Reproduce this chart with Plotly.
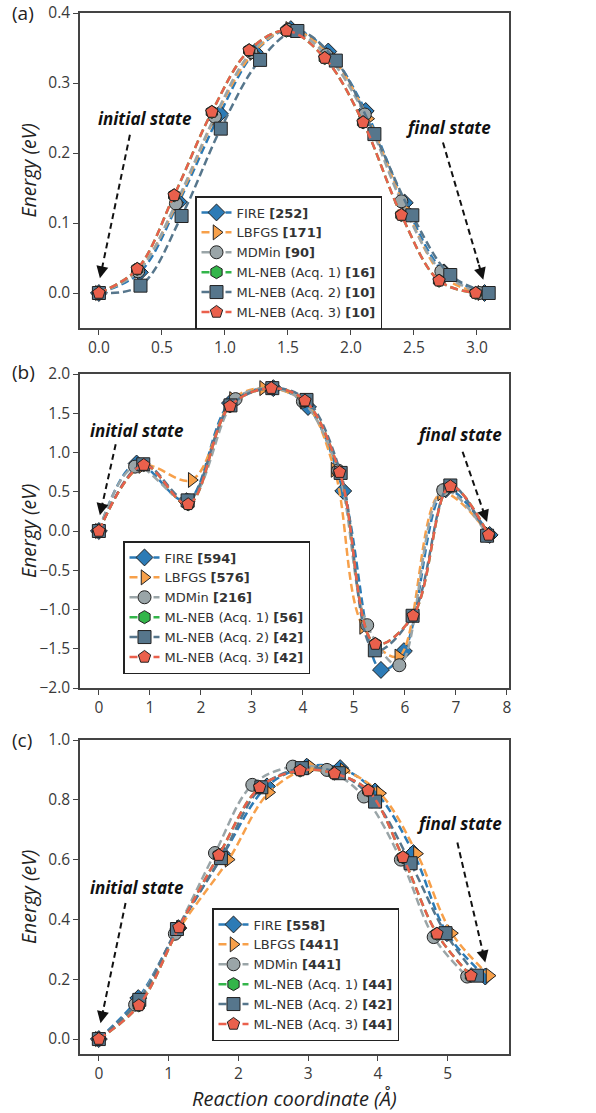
import plotly.graph_objects as go

# ---------------- data ----------------
methods = ["FIRE", "LBFGS", "MDMin", "ML-NEB (Acq. 1)", "ML-NEB (Acq. 2)", "ML-NEB (Acq. 3)"]
colors = ["#2c7bb6", "#f7a04a", "#9aa5a8", "#33b54a", "#56768c", "#ea604c"]
symbols = ["diamond", "triangle-right", "circle", "hexagon", "square", "pentagon"]

# Panel (a)
a_counts = [252, 171, 90, 16, 10, 10]
a_fire_x = [0, 0.325, 0.634, 0.96, 1.237, 1.523, 1.82, 2.117, 2.427, 2.739, 3.06]
a_fire_y = [0, 0.0295, 0.13, 0.256, 0.344, 0.377, 0.345, 0.26, 0.129, 0.0295, 0.0]
a_lbfgs_x = [0, 0.312, 0.621, 0.92, 1.224, 1.51, 1.83, 2.136, 2.44, 2.744, 3.035]
a_lbfgs_y = [0, 0.032, 0.129, 0.25, 0.343, 0.377, 0.34, 0.249, 0.118, 0.022, 0.0]
a_mdmin_x = [0, 0.312, 0.611, 0.92, 1.21, 1.50, 1.805, 2.11, 2.40, 2.717, 3.02]
a_mdmin_y = [0, 0.031, 0.128, 0.252, 0.344, 0.376, 0.34, 0.255, 0.131, 0.031, 0.0]
a_acq1_x = [0, 0.304, 0.597, 0.896, 1.192, 1.488, 1.792, 2.096, 2.40, 2.699, 2.99]
a_acq1_y = [0, 0.0343, 0.1395, 0.2586, 0.3467, 0.3748, 0.3357, 0.2438, 0.1114, 0.0176, 0.0]
a_acq2_x = [0, 0.33, 0.656, 0.967, 1.279, 1.575, 1.88, 2.186, 2.487, 2.788, 3.093]
a_acq2_y = [0, 0.0105, 0.110, 0.2348, 0.333, 0.3743, 0.332, 0.227, 0.111, 0.0257, 0.0]
a_acq3_x = [0, 0.304, 0.597, 0.896, 1.192, 1.488, 1.792, 2.096, 2.40, 2.699, 2.99]
a_acq3_y = [0, 0.0343, 0.1395, 0.2586, 0.3467, 0.3748, 0.3357, 0.2438, 0.1114, 0.0176, 0.0]

# Panel (b)
b_counts = [594, 576, 216, 56, 42, 42]
b_fire_x = [0, 0.74, 1.72, 2.57, 3.42, 4.10, 4.79, 5.53, 5.98, 6.80, 7.66]
b_fire_y = [0, 0.86, 0.38, 1.63, 1.82, 1.58, 0.51, -1.77, -1.53, 0.53, -0.05]
b_lbfgs_x = [0, 0.85, 1.82, 2.63, 3.22, 4.02, 4.62, 5.18, 5.87, 6.71, 7.64]
b_lbfgs_y = [0, 0.83, 0.65, 1.68, 1.82, 1.65, 0.78, -1.22, -1.60, 0.48, -0.04]
b_mdmin_x = [0, 0.71, 1.75, 2.68, 3.38, 4.00, 4.69, 5.26, 5.89, 6.75, 7.63]
b_mdmin_y = [0, 0.82, 0.39, 1.68, 1.82, 1.65, 0.77, -1.20, -1.71, 0.52, -0.06]
b_acq1_x = [0, 0.88, 1.75, 2.57, 3.38, 4.04, 4.72, 5.42, 6.16, 6.89, 7.64]
b_acq1_y = [0, 0.84, 0.34, 1.59, 1.82, 1.66, 0.75, -1.44, -1.08, 0.57, -0.05]
b_acq2_x = [0, 0.87, 1.74, 2.58, 3.40, 4.07, 4.74, 5.41, 6.15, 6.89, 7.61]
b_acq2_y = [0, 0.85, 0.39, 1.60, 1.82, 1.67, 0.74, -1.52, -1.08, 0.58, -0.06]
b_acq3_x = [0, 0.88, 1.75, 2.57, 3.38, 4.04, 4.72, 5.42, 6.16, 6.89, 7.64]
b_acq3_y = [0, 0.84, 0.34, 1.59, 1.82, 1.66, 0.75, -1.44, -1.08, 0.57, -0.05]

# Panel (c)
c_counts = [558, 441, 441, 44, 42, 44]
c_fire_x = [0, 0.565, 1.14, 1.78, 2.41, 2.98, 3.46, 3.96, 4.51, 4.99, 5.54]
c_fire_y = [0, 0.137, 0.371, 0.616, 0.845, 0.911, 0.906, 0.828, 0.622, 0.354, 0.209]
c_lbfgs_x = [0, 0.58, 1.16, 1.86, 2.44, 3.05, 3.51, 4.03, 4.56, 5.06, 5.60]
c_lbfgs_y = [0, 0.126, 0.371, 0.60, 0.825, 0.909, 0.898, 0.822, 0.62, 0.354, 0.212]
c_mdmin_x = [0, 0.52, 1.09, 1.665, 2.20, 2.78, 3.27, 3.80, 4.33, 4.80, 5.28]
c_mdmin_y = [0, 0.115, 0.352, 0.622, 0.85, 0.911, 0.90, 0.811, 0.60, 0.341, 0.209]
c_acq1_x = [0, 0.574, 1.148, 1.72, 2.306, 2.885, 3.378, 3.861, 4.359, 4.847, 5.335]
c_acq1_y = [0, 0.1125, 0.373, 0.615, 0.842, 0.898, 0.888, 0.831, 0.608, 0.352, 0.2117]
c_acq2_x = [0, 0.58, 1.12, 1.75, 2.33, 2.91, 3.44, 3.96, 4.47, 4.97, 5.42]
c_acq2_y = [0, 0.131, 0.368, 0.605, 0.842, 0.906, 0.889, 0.794, 0.588, 0.354, 0.212]
c_acq3_x = [0, 0.574, 1.148, 1.72, 2.306, 2.885, 3.378, 3.861, 4.359, 4.847, 5.335]
c_acq3_y = [0, 0.1125, 0.373, 0.615, 0.842, 0.898, 0.888, 0.831, 0.608, 0.352, 0.2117]

panels = [
    dict(counts=a_counts,
         xs=[a_fire_x, a_lbfgs_x, a_mdmin_x, a_acq1_x, a_acq2_x, a_acq3_x],
         ys=[a_fire_y, a_lbfgs_y, a_mdmin_y, a_acq1_y, a_acq2_y, a_acq3_y]),
    dict(counts=b_counts,
         xs=[b_fire_x, b_lbfgs_x, b_mdmin_x, b_acq1_x, b_acq2_x, b_acq3_x],
         ys=[b_fire_y, b_lbfgs_y, b_mdmin_y, b_acq1_y, b_acq2_y, b_acq3_y]),
    dict(counts=c_counts,
         xs=[c_fire_x, c_lbfgs_x, c_mdmin_x, c_acq1_x, c_acq2_x, c_acq3_x],
         ys=[c_fire_y, c_lbfgs_y, c_mdmin_y, c_acq1_y, c_acq2_y, c_acq3_y]),
]

# ---------------- figure ----------------
FONT = "Open Sans"
LEGFONT = "DejaVu Sans"
W, H = 596, 1113
ML, MR, MT, MB = 80, 87, 13, 59
pw = W - ML - MR
ph = H - MT - MB

def pdom(top_px, bot_px):
    return [(H - MB - bot_px) / ph, (H - MB - top_px) / ph]

def px_x(xpx):
    return (xpx - ML) / pw

def px_y(ypx):
    return (H - MB - ypx) / ph

panel_px = [(13, 328), (374, 688), (740, 1054)]
domains = [pdom(*t) for t in panel_px]
xranges = [[-0.15, 3.254], [-0.37, 8.04], [-0.27, 5.88]]
yranges = [[-0.05, 0.4], [-2.0, 2.0], [-0.05, 1.0]]
xticks = [dict(dtick=0.5, tickformat=".1f"), dict(dtick=1, tickformat="d"), dict(dtick=1, tickformat="d")]
yticks = [dict(dtick=0.1, tickformat=".1f"), dict(dtick=0.5, tickformat=".1f"), dict(dtick=0.2, tickformat=".1f")]
legend_pos = [(195, 196), (123, 541), (212, 908)]
marker_sizes = [13, 13, 13, 13, 13, 13]

fig = go.Figure()

for p, panel in enumerate(panels):
    sfx = "" if p == 0 else str(p + 1)
    for i in range(6):
        fig.add_trace(go.Scatter(
            x=panel["xs"][i], y=panel["ys"][i],
            mode="lines+markers",
            name=f"{methods[i]} <b>[{panel['counts'][i]}]</b>",
            line=dict(color=colors[i], width=2.5, dash="8px,4px", shape="spline", smoothing=1.0),
            marker=dict(symbol=symbols[i], size=marker_sizes[i],
                        color=colors[i], line=dict(color="#222222", width=1)),
            xaxis="x" + sfx, yaxis="y" + sfx,
            legend="legend" + sfx,
        ))

axis_common = dict(showline=True, mirror=True, linecolor="#444444", linewidth=1.5,
                   ticks="outside", ticklen=5, tickwidth=1.2, tickcolor="#444444",
                   showgrid=False, zeroline=False, automargin=False,
                   tickfont=dict(family=FONT, size=15.5, color="#3a3a3a"))

layout = dict(
    width=W, height=H,
    margin=dict(l=ML, r=MR, t=MT, b=MB, autoexpand=False),
    paper_bgcolor="white", plot_bgcolor="white",
    font=dict(family=FONT, color="#222222"),
    showlegend=True,
)

for p in range(3):
    sfx = "" if p == 0 else str(p + 1)
    xa = dict(axis_common, domain=[0, 1], range=xranges[p], anchor="y" + sfx, tick0=0, **xticks[p])
    ya = dict(axis_common, domain=domains[p], range=yranges[p], anchor="x" + sfx, tick0=0, **yticks[p])
    layout["xaxis" + sfx] = xa
    layout["yaxis" + sfx] = ya
    lx, ly = legend_pos[p]
    layout["legend" + sfx] = dict(
        x=px_x(lx), y=px_y(ly),
        xanchor="left", yanchor="top",
        bgcolor="white", bordercolor="#222222", borderwidth=1.5,
        font=dict(family=LEGFONT, size=13, color="#333333"),
        tracegroupgap=0, itemwidth=30,
    )

fig.update_layout(**layout)

# ---------------- annotations ----------------
# (text_x, text_y, tail_x, tail_y, head_x, head_y) for initial and final states
ann_initial = [(0.365, 0.25, 0.246, 0.226, 0.008, 0.021),
               (0.74, 1.285, 0.33, 1.106, 0.02, 0.20),
               (0.54, 0.507, 0.383, 0.455, 0.024, 0.053)]
ann_final = [(2.77, 0.236, 2.73, 0.215, 3.05, 0.019),
             (7.07, 1.234, 7.13, 1.01, 7.61, 0.115),
             (5.17, 0.722, 5.14, 0.657, 5.54, 0.256)]

annotations = []
shapes = []
for p in range(3):
    sfx = "" if p == 0 else str(p + 1)
    for label, spec in (("initial state", ann_initial[p]), ("final state", ann_final[p])):
        tx, ty, ax_, ay_, hx, hy = spec
        annotations.append(dict(x=tx, y=ty, xref="x" + sfx, yref="y" + sfx, text=f"<b><i>{label}</i></b>",
                                showarrow=False, font=dict(family=FONT, size=17, color="#111111")))
        f = 0.12
        jx = hx + (ax_ - hx) * f
        jy = hy + (ay_ - hy) * f
        shapes.append(dict(type="line", xref="x" + sfx, yref="y" + sfx, x0=ax_, y0=ay_, x1=jx, y1=jy,
                           line=dict(color="#111111", width=2, dash="6px,4px")))
        annotations.append(dict(x=hx, y=hy, xref="x" + sfx, yref="y" + sfx, text="",
                                showarrow=True, axref="x" + sfx, ayref="y" + sfx, ax=jx, ay=jy,
                                arrowhead=2, arrowsize=1.2, arrowwidth=2, arrowcolor="#111111"))
    top, bot = panel_px[p]
    annotations.append(dict(x=px_x(28), y=px_y((top + bot) / 2), xref="paper", yref="paper",
                            text="<i>Energy (eV)</i>", textangle=-90, showarrow=False,
                            xanchor="center", yanchor="middle",
                            font=dict(family=FONT, size=19.5, color="#222222")))

annotations.append(dict(x=px_x(294), y=px_y(1098), xref="paper", yref="paper",
                        text="<i>Reaction coordinate (Å)</i>", showarrow=False,
                        xanchor="center", yanchor="middle",
                        font=dict(family=FONT, size=20, color="#222222")))

for lab, ypx in (("(a)", 13), ("(b)", 372), ("(c)", 740)):
    annotations.append(dict(x=px_x(10), y=px_y(ypx), xref="paper", yref="paper",
                            text=lab, showarrow=False, xanchor="left", yanchor="middle",
                            font=dict(family=FONT, size=19, color="#222222")))

fig.update_layout(annotations=annotations, shapes=shapes)

fig.write_html(
    "out.html",
    config={"displayModeBar": False},
    post_script="document.documentElement.style.margin='0';document.body.style.margin='0';"
                "document.body.style.padding='0';document.body.style.overflow='hidden';",
)
